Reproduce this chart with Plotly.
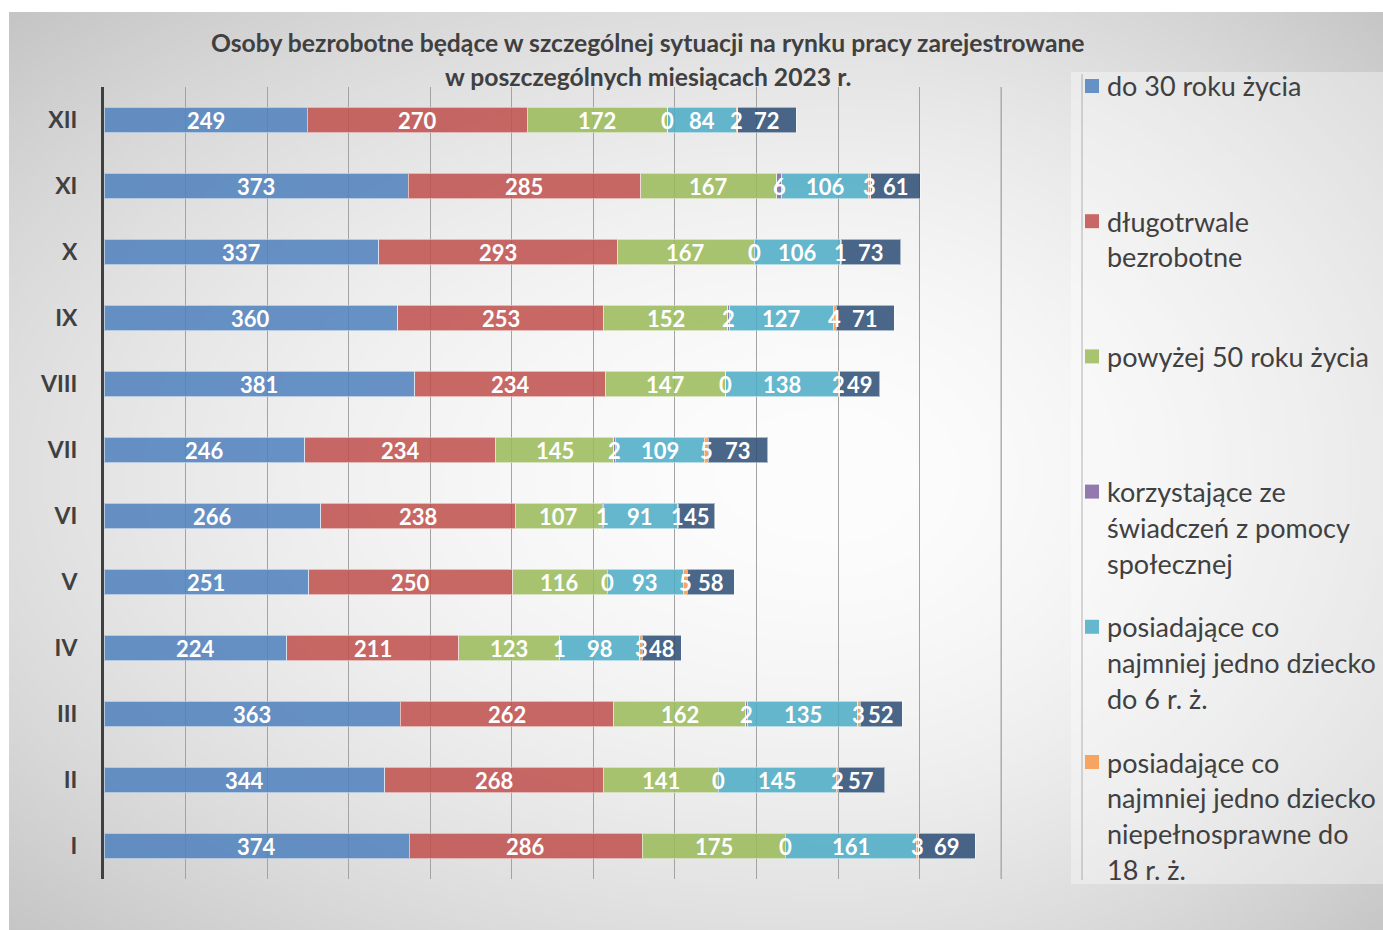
import base64, struct, zlib
import numpy as np
import plotly.graph_objects as go

# ---------------- data ----------------
months = ["I", "II", "III", "IV", "V", "VI", "VII", "VIII", "IX", "X", "XI", "XII"]
do_30 = [374, 344, 363, 224, 251, 266, 246, 381, 360, 337, 373, 249]
dlugotrwale = [286, 268, 262, 211, 250, 238, 234, 234, 253, 293, 285, 270]
powyzej_50 = [175, 141, 162, 123, 116, 107, 145, 147, 152, 167, 167, 172]
pomoc_spoleczna = [0, 0, 2, 1, 0, 1, 2, 0, 2, 0, 6, 0]
dziecko_do_6 = [161, 145, 135, 98, 93, 91, 109, 138, 127, 106, 106, 84]
dziecko_niepelnosprawne = [3, 2, 3, 3, 5, 1, 5, 2, 4, 1, 3, 2]
inne = [69, 57, 52, 48, 58, 45, 73, 49, 71, 73, 61, 72]

series_names = [
    "do 30 roku życia",
    "długotrwale bezrobotne",
    "powyżej 50 roku życia",
    "korzystające ze świadczeń z pomocy społecznej",
    "posiadające co najmniej jedno dziecko do 6 r. ż.",
    "posiadające co najmniej jedno dziecko niepełnosprawne do 18 r. ż.",
    "niepełnosprawne",
]
series_values = [do_30, dlugotrwale, powyzej_50, pomoc_spoleczna,
                 dziecko_do_6, dziecko_niepelnosprawne, inne]
legend_lines = [
    ["do 30 roku życia"],
    ["długotrwale", "bezrobotne"],
    ["powyżej 50 roku życia"],
    ["korzystające ze", "świadczeń z pomocy", "społecznej"],
    ["posiadające co", "najmniej jedno dziecko", "do 6 r. ż."],
    ["posiadające co", "najmniej jedno dziecko", "niepełnosprawne do", "18 r. ż."],
]
title_lines = ["Osoby bezrobotne będące w szczególnej sytuacji na rynku pracy zarejestrowane",
               "w poszczególnych miesiącach 2023 r."]

colors = ["#4F81BD", "#C0504D", "#9BBB59", "#8064A2", "#4BACC6", "#F79646", "#2C4D75"]

# ---------------- geometry helpers (pixel -> paper) ----------------
W, H = 1383, 930
L, R, T, B = 104, 1002, 87, 879
X_MAX = 1101
X_LAST_GRID = 1100


def px(x):
    return (x - L) / (R - L)


def py(y):
    return (B - y) / (B - T)


# ---------------- background gradient image ----------------
GW, GH = 458, 306
yy, xx = np.mgrid[0:GH, 0:GW].astype(float)
cx, cy = 0.6 * GW, 0.5 * GH
dx = np.where(xx < cx, (xx - cx) / cx, (xx - cx) / (GW - cx))
dy = (yy - cy) / cy
d = np.sqrt(dx ** 2 + dy ** 2)
val = np.clip(253 - 30 * d ** 1.8, 0, 255).astype(np.uint8)


def make_png(arr):
    h, w = arr.shape
    raw = b"".join(b"\x00" + arr[i].tobytes() for i in range(h))

    def chunk(t, dat):
        c = struct.pack(">I", len(dat)) + t + dat
        return c + struct.pack(">I", zlib.crc32(t + dat) & 0xFFFFFFFF)

    ihdr = struct.pack(">IIBBBBB", w, h, 8, 0, 0, 0, 0)
    return (b"\x89PNG\r\n\x1a\n" + chunk(b"IHDR", ihdr)
            + chunk(b"IDAT", zlib.compress(raw, 9)) + chunk(b"IEND", b""))


bg_src = "data:image/png;base64," + base64.b64encode(make_png(val)).decode()

# ---------------- figure ----------------
fig = go.Figure()
for name, vals, col in zip(series_names, series_values, colors):
    fig.add_trace(go.Bar(
        y=months, x=vals, name=name, orientation="h",
        marker=dict(color=col, line=dict(color="rgba(255,255,255,0.55)", width=1)),
        opacity=0.85, showlegend=False, hoverinfo="x+name",
    ))

shapes = []
annotations = []

# last gridline (at the right edge of the value range)
shapes.append(dict(type="line", xref="x", yref="paper", x0=X_LAST_GRID, x1=X_LAST_GRID,
                   y0=0, y1=1, line=dict(color="#A3A3A3", width=1.3), layer="below"))

# data labels centred on each segment
cum = np.zeros(len(months))
for vals in series_values:
    v = np.array(vals, dtype=float)
    mids = cum + v / 2
    for m, xm, a in zip(months, mids, vals):
        annotations.append(dict(
            x=float(xm), y=m, xref="x", yref="y", text=str(int(a)), showarrow=False,
            xanchor="center", yanchor="middle", yshift=0,
            font=dict(family="Lato", size=22, color="white", weight="bold"),
        ))
    cum += v

# legend box
shapes.append(dict(type="rect", xref="paper", yref="paper",
                   x0=px(1071), x1=px(1390), y0=py(884), y1=py(72),
                   fillcolor="rgba(255,255,255,0.35)", line=dict(width=0), layer="below"))
shapes.append(dict(type="line", xref="paper", yref="paper",
                   x0=px(1082), x1=px(1082), y0=py(880), y1=py(74),
                   line=dict(color="rgba(150,150,150,0.7)", width=1)))

line_gap = 35.7
entry_start = 86
entry_step = 135.2
for i, lines in enumerate(legend_lines):
    y0 = entry_start + i * entry_step
    shapes.append(dict(type="rect", xref="paper", yref="paper",
                       x0=px(1085), x1=px(1099), y0=py(y0 + 7), y1=py(y0 - 7),
                       fillcolor=colors[i], opacity=0.85, line=dict(width=0)))
    for j, txt in enumerate(lines):
        annotations.append(dict(
            text=txt, xref="paper", yref="paper", x=px(1105), y=py(y0 + j * line_gap),
            xanchor="left", yanchor="middle", showarrow=False,
            font=dict(family="Lato", size=27, color="#404040"),
        ))

# title
for txt, yv in zip(title_lines, [43, 76]):
    annotations.append(dict(
        text=txt, xref="paper", yref="paper", x=px(648), y=py(yv),
        xanchor="center", yanchor="middle", showarrow=False,
        font=dict(family="Lato", size=24.7, color="#404040", weight="bold"),
    ))

fig.update_layout(
    width=W, height=H,
    margin=dict(l=L, r=W - R, t=T, b=H - B, pad=0),
    barmode="stack", bargap=0.62,
    paper_bgcolor="white", plot_bgcolor="rgba(0,0,0,0)",
    images=[dict(source=bg_src, xref="paper", yref="paper",
                 x=px(9), y=py(12), sizex=px(1390) - px(9), sizey=py(12) - py(935),
                 xanchor="left", yanchor="top", sizing="stretch", layer="below")],
    shapes=shapes, annotations=annotations,
    showlegend=False,
    xaxis=dict(range=[0, X_MAX], dtick=100, showticklabels=False, showgrid=True,
               gridcolor="#A3A3A3", gridwidth=1.3, zeroline=False, showline=False,
               fixedrange=True),
    yaxis=dict(type="category", categoryorder="array", categoryarray=months,
               range=[-0.5, 11.5], showgrid=False, showline=True, linecolor="#404040",
               linewidth=3, ticks="", ticklabelstandoff=19,
               tickfont=dict(family="Lato", size=23, color="#404040", weight="bold"),
               fixedrange=True),
)

fig.write_html(
    "out.html",
    config={"displayModeBar": False},
    post_script="document.body.style.margin='0';document.body.style.overflow='hidden';",
)
